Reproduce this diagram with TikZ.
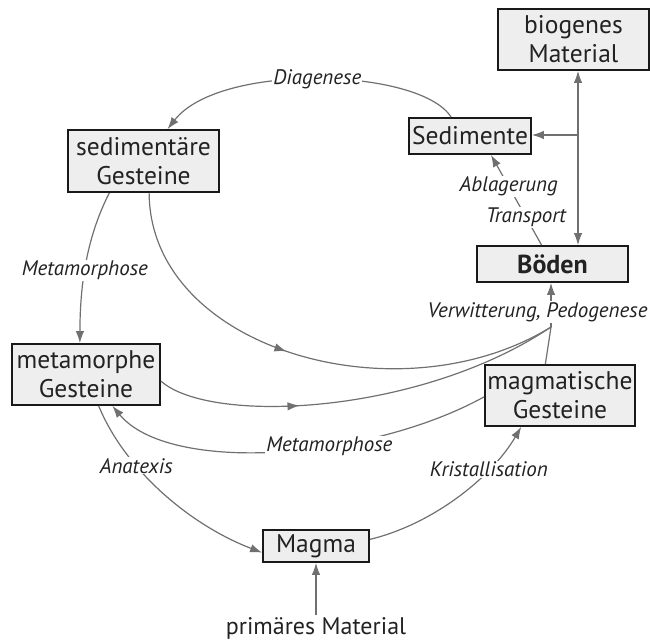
\documentclass[tikz,border=0pt]{standalone}
\usepackage{fontspec}
\setmainfont{PT Sans}
\usetikzlibrary{arrows.meta,calc,decorations.markings}
\definecolor{ln}{HTML}{707070}
\definecolor{bx}{HTML}{EEEEEE}
\definecolor{tx}{HTML}{222222}
\tikzset{
 box/.style={draw=black!90, line width=1.8pt, fill=bx, align=center, inner sep=0pt, text=tx, font=\fontsize{25.5}{29}\selectfont},
 line/.style={draw=ln, color=ln, line width=1.2pt},
 conn/.style={line, -{Latex[length=12pt,width=8.5pt]}},
 lbl/.style={font=\fontsize{21}{24}\selectfont\itshape, text=tx, fill=white, inner sep=1pt},
 midarr/.style={postaction={decorate}, decoration={markings, mark=at position #1 with {\arrow{Latex[length=12pt,width=8.5pt]}}}},
}
\begin{document}
\begin{tikzpicture}[x=1pt,y=-1pt]
\useasboundingbox (0,0) rectangle (650,644);
% nodes
\node[box, minimum width=151pt, minimum height=61pt] (bio) at (573.5,39.5) {biogenes\\Material};
\node[box, minimum width=122pt, minimum height=36pt] (sed) at (470,136) {Sedimente};
\node[box, minimum width=151pt, minimum height=62pt] (sedG) at (143.5,161) {sedimentäre\\Gesteine};
\node[box, font=\fontsize{26}{29}\selectfont\bfseries, minimum width=151pt, minimum height=36pt] (boden) at (552.5,264) {Böden};
\node[box, minimum width=148pt, minimum height=61pt] (metG) at (86,374.5) {metamorphe\\Gesteine};
\node[box, minimum width=150pt, minimum height=61pt] (magG) at (560,395.5) {magmatische\\Gesteine};
\node[box, minimum width=106pt, minimum height=32pt] (magma) at (316,546) {Magma};
\node[inner sep=2pt, text=tx, font=\fontsize{24}{28}\selectfont] (prim) at (316,628) {primäres Material};
\coordinate (vp) at (551,327);
\coordinate (br) at (578,135);
% connectors
\draw[line, {Latex[length=12pt,width=8.5pt]}-{Latex[length=12pt,width=8.5pt]}] ($(bio.south)+(4.5,0)$) -- ($(boden.north)+(25.5,0)$);
\draw[conn] (br) -- (br -| sed.east);
\draw[conn] (boden.120) -- node[lbl,pos=0.31]{Transport} node[lbl,pos=0.65]{Ablagerung} (sed.318);
\draw[conn] (sed.135) .. controls (420,68) and (220,62) .. node[lbl,pos=0.5]{Diagenese} (sedG.53);
\draw[conn] (sedG.223) .. controls (88,235) and (80,280) .. node[lbl,pos=0.57]{Metamorphose} (metG.101);
\draw[line, midarr=0.45] (sedG.280) .. controls (150,350) and (400,420) .. (vp);
\draw[line, midarr=0.35] (metG.-5) .. controls (210,425) and (420,415) .. (vp);
\draw[line] (magG.115) -- (vp);
\draw[conn] (vp) -- (vp |- boden.south);
\node[lbl] (verw) at (537.5,312) {Verwitterung, Pedogenese};
\draw[conn] (magG.181) .. controls (370,460) and (170,475) .. node[lbl,pos=0.38]{Metamorphose} (metG.310);
\draw[conn] (metG.292) .. controls (125,470) and (190,525) .. node[lbl,pos=0.33]{Anatexis} (magma.187);
\draw[conn] (magma.7) .. controls (430,525) and (490,480) .. node[lbl,pos=0.72]{Kristallisation} (magG.219);
\draw[conn] (prim.north) -- (magma.south);
\end{tikzpicture}
\end{document}
